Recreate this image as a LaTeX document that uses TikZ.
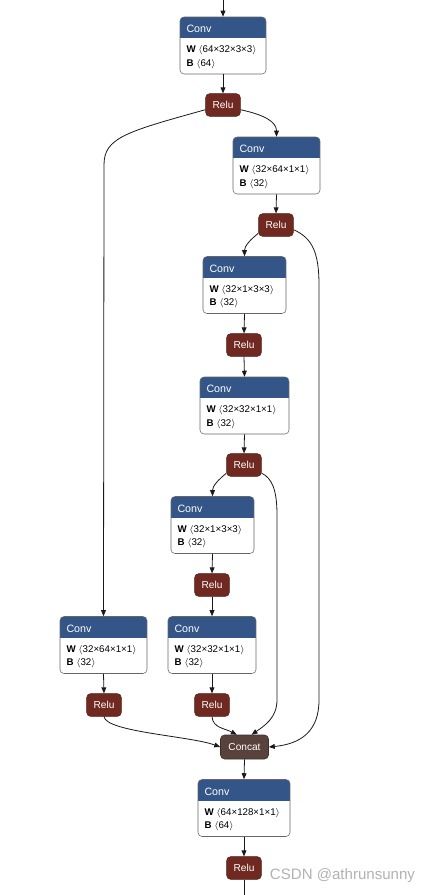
\documentclass[tikz,border=0pt]{standalone}
\usepackage{fontspec}
\setmainfont{Liberation Sans}
\usetikzlibrary{arrows.meta}
\definecolor{convblue}{RGB}{51,85,136}
\definecolor{relured}{RGB}{112,41,33}
\definecolor{concatbrown}{RGB}{89,66,59}
\definecolor{edgegray}{RGB}{25,25,25}

\begin{document}
\begin{tikzpicture}[x=0.75pt,y=-0.75pt,
    conv/.style={draw=black!60, fill=white, rounded corners=3pt, minimum height=42.75pt, inner sep=0pt,
      path picture={\fill[convblue, sharp corners] (path picture bounding box.north west) rectangle ([yshift=-15.75pt]path picture bounding box.north east);}},
    ctitle/.style={anchor=west, inner sep=0pt, text=white, font=\fontsize{8}{9}\selectfont},
    cline/.style={anchor=west, inner sep=0pt, font=\fontsize{7.3}{8}\selectfont},
    relu/.style={draw=relured!70!black, fill=relured, rounded corners=3pt, minimum width=26pt, minimum height=17pt,
      inner sep=0pt, text=white, font=\fontsize{7.6}{9}\selectfont},
    edge/.style={draw=edgegray, line width=0.6pt, -{Triangle[length=4.5pt,width=3.6pt]}}]
  \useasboundingbox (0,0) rectangle (436,895);

  % conv blocks
  \foreach \n/\x/\y/\w/\wt/\bt in {c1/223/45.5/86/64×32×3×3/64, c2/276.5/165.5/87/32×64×1×1/32,
      c3/244.5/285/83/32×1×3×3/32, c4/244.5/405.5/89/32×32×1×1/32, c5/212.5/525/83/32×1×3×3/32,
      c6/103.5/645/87/32×64×1×1/32, c7/212/645/88/32×32×1×1/32, c8/244/808/92/64×128×1×1/64} {
    \node[conv, minimum width=\w*0.75pt] (\n) at (\x,\y) {};
    \node[ctitle] (\n-t) at ([xshift=4.9pt,yshift=-9.3pt]\n.north west) {Conv};
    \node[cline] (\n-w) at ([xshift=4.9pt,yshift=-25.3pt]\n.north west) {\textbf{W} $\langle$\wt$\rangle$};
    \node[cline] (\n-b) at ([xshift=4.9pt,yshift=-35.3pt]\n.north west) {\textbf{B} $\langle$\bt$\rangle$};
  }

  % relu and concat
  \node[relu] (r1) at (223,105) {Relu};
  \node[relu] (r2) at (276,225) {Relu};
  \node[relu] (r3) at (244,345) {Relu};
  \node[relu] (r4) at (244,465) {Relu};
  \node[relu] (r5) at (212,585) {Relu};
  \node[relu] (r6) at (104,705) {Relu};
  \node[relu] (r7) at (212,705) {Relu};
  \node[relu] (r8) at (244,868) {Relu};
  \node[relu, fill=concatbrown, draw=concatbrown!70!black, minimum width=36pt, minimum height=18pt] (cc) at (244.5,747) {Concat};

  \coordinate (in) at (223,0);
  \coordinate (out) at (244,895);

  % edges
  \draw[edge] (in) -- (c1.north);
  \draw[edge] (c1.south) -- (r1.north);
  \draw[edge] (r1.-15) .. controls (265,115) and (276.5,122) .. (c2.north);
  \draw[edge] (r1.195) .. controls (125,132) and (104,138) .. (104,165) -- (c6.north);
  \draw[edge] (c2.south) -- (r2.north);
  \draw[edge] (r2.205) .. controls (250,240) and (244.5,246) .. (c3.north);
  \draw[edge] (r2.-15) .. controls (312,238) and (319,252) .. (319,285) -- (319,700) .. controls (319,732) and (300,744) .. (cc.east);
  \draw[edge] (c3.south) -- (r3.north);
  \draw[edge] (r3.south) -- (c4.north);
  \draw[edge] (c4.south) -- (r4.north);
  \draw[edge] (r4.205) .. controls (218,480) and (212.5,486) .. (c5.north);
  \draw[edge] (r4.-25) .. controls (272,478) and (277,490) .. (277,515) -- (277,700) .. controls (277,718) and (264,726) .. (cc.60);
  \draw[edge] (c5.south) -- (r5.north);
  \draw[edge] (r5.south) -- (c7.north);
  \draw[edge] (c6.south) -- (r6.north);
  \draw[edge] (c7.south) -- (r7.north);
  \draw[edge] (r6.south) .. controls (106,732) and (190,736) .. (cc.west);
  \draw[edge] (r7.south) .. controls (213,728) and (224,728) .. (cc.122);
  \draw[edge] (cc.south) -- (c8.north);
  \draw[edge] (c8.south) -- (r8.north);
  \draw[draw=edgegray, line width=0.6pt] (r8.south) -- (out);

  \node[text=black!30, font=\fontsize{11.3}{13}\selectfont] (mark) at (342.5,876) {CSDN @athrunsunny};
\end{tikzpicture}
\end{document}
